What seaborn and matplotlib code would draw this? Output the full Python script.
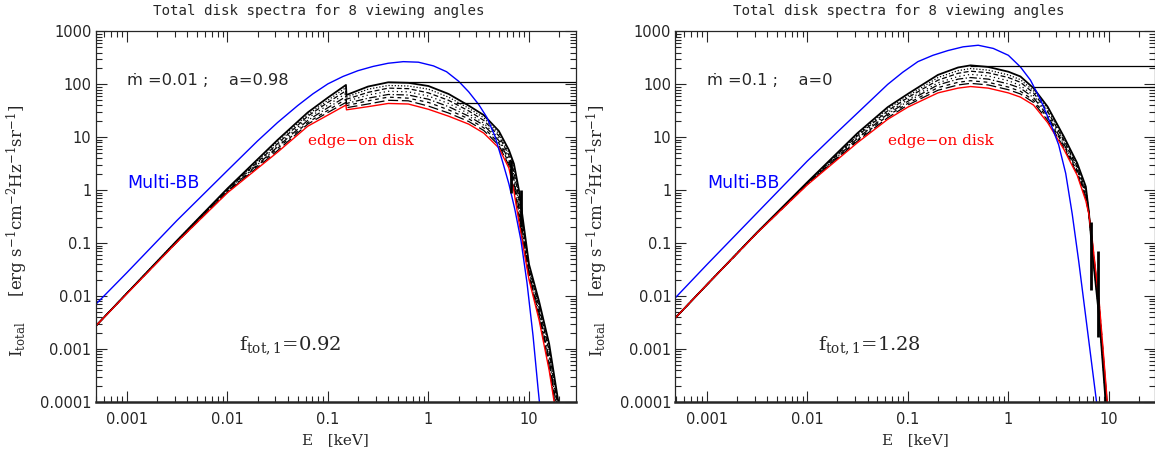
import numpy as np
import pandas as pd
import matplotlib
matplotlib.use("Agg")
import matplotlib.pyplot as plt
import seaborn as sns
from matplotlib.ticker import LogLocator, FuncFormatter, NullFormatter

# ---- data (log10 values) ----
# panel 1: mdot = 0.01, a = 0.98
logE_left = [-3.31, -3.0, -2.5, -2.0, -1.5, -1.2, -1.0, -0.82, -0.815, -0.6, -0.4, -0.2,
             0.0, 0.2, 0.4, 0.55, 0.7, 0.8, 0.85, 0.9, 1.0, 1.1, 1.2, 1.3]
logI_left_angles = [
    [-2.57, -1.95, -0.95, 0.03, 0.95, 1.47, 1.75, 1.99, 1.80, 1.96, 2.04, 2.03, 1.97, 1.82, 1.60, 1.42, 1.12, 0.76, 0.50, 0.00, -1.40, -2.10, -2.90, -4.10],
    [-2.57, -1.95, -0.95, 0.02, 0.92, 1.43, 1.70, 1.94, 1.76, 1.91, 1.98, 1.97, 1.91, 1.76, 1.55, 1.37, 1.07, 0.71, 0.43, -0.09, -1.44, -2.15, -2.97, -4.17],
    [-2.57, -1.95, -0.96, 0.01, 0.88, 1.40, 1.66, 1.88, 1.72, 1.85, 1.93, 1.92, 1.84, 1.70, 1.50, 1.32, 1.03, 0.66, 0.35, -0.17, -1.48, -2.20, -3.04, -4.24],
    [-2.57, -1.95, -0.96, 0.00, 0.85, 1.36, 1.61, 1.83, 1.68, 1.80, 1.87, 1.86, 1.78, 1.64, 1.45, 1.27, 0.98, 0.61, 0.28, -0.26, -1.52, -2.25, -3.11, -4.31],
    [-2.57, -1.95, -0.97, -0.02, 0.82, 1.32, 1.56, 1.77, 1.64, 1.74, 1.81, 1.80, 1.72, 1.58, 1.40, 1.23, 0.94, 0.57, 0.20, -0.34, -1.57, -2.30, -3.19, -4.39],
    [-2.57, -1.95, -0.97, -0.03, 0.79, 1.28, 1.51, 1.72, 1.60, 1.69, 1.76, 1.74, 1.66, 1.52, 1.35, 1.18, 0.89, 0.52, 0.13, -0.43, -1.61, -2.35, -3.26, -4.46],
    [-2.57, -1.95, -0.98, -0.04, 0.75, 1.25, 1.47, 1.66, 1.56, 1.63, 1.70, 1.69, 1.59, 1.46, 1.30, 1.13, 0.85, 0.47, 0.05, -0.51, -1.65, -2.40, -3.33, -4.53],
]
logI_left_edge = [-2.57, -1.96, -0.98, -0.05, 0.72, 1.21, 1.42, 1.61, 1.52, 1.58, 1.64, 1.63, 1.53, 1.40,
                  1.25, 1.08, 0.80, 0.42, -0.02, -0.60, -1.69, -2.45, -3.40, -4.60]
logE_bb_left = [-3.31, -3.0, -2.5, -2.0, -1.7, -1.5, -1.3, -1.15, -1.0, -0.85, -0.7, -0.55, -0.4, -0.25,
                -0.1, 0.05, 0.18, 0.3, 0.4, 0.5, 0.58, 0.66, 0.74, 0.8, 0.86, 0.92, 0.98, 1.04, 1.09, 1.13]
logI_bb_left = [-2.16, -1.56, -0.57, 0.37, 0.93, 1.28, 1.60, 1.82, 2.01, 2.15, 2.26, 2.34, 2.40, 2.43,
                2.42, 2.35, 2.24, 2.06, 1.86, 1.62, 1.38, 1.03, 0.52, 0.12, -0.37, -0.95, -1.75, -2.75, -3.75, -4.50]
ref_level_left = [110, 44]
ref_start_left = [0.41, 1.9]
# iron-edge spikes in the black spectra (E in keV, top / bottom of the spike)
spike_E_left = [6.65, 8.4]
spike_top_left = [3.8, 1.0]
spike_bot_left = [0.9, 0.2]

# panel 2: mdot = 0.1, a = 0
logE_right = [-3.31, -3.0, -2.5, -2.0, -1.5, -1.2, -1.0, -0.7, -0.5, -0.376, -0.2, 0.0, 0.12, 0.25,
              0.39, 0.55, 0.685, 0.77, 0.80, 0.835, 0.905, 0.967, 1.0]
logI_right_angles = [
    [-2.41, -1.79, -0.80, 0.15, 1.08, 1.57, 1.82, 2.18, 2.32, 2.36, 2.33, 2.24, 2.15, 1.93, 1.58, 1.02, 0.51, 0.07, -0.40, -1.18, -2.44, -4.00, -4.60],
    [-2.41, -1.79, -0.80, 0.14, 1.05, 1.54, 1.78, 2.13, 2.26, 2.30, 2.27, 2.18, 2.09, 1.88, 1.54, 0.99, 0.48, 0.03, -0.41, -1.15, -2.40, -3.94, -4.57],
    [-2.41, -1.79, -0.80, 0.14, 1.03, 1.50, 1.75, 2.08, 2.21, 2.25, 2.22, 2.13, 2.04, 1.84, 1.49, 0.95, 0.44, -0.01, -0.41, -1.11, -2.36, -3.89, -4.54],
    [-2.41, -1.79, -0.80, 0.13, 1.00, 1.47, 1.71, 2.03, 2.15, 2.19, 2.16, 2.07, 1.98, 1.79, 1.45, 0.92, 0.41, -0.05, -0.42, -1.08, -2.32, -3.83, -4.51],
    [-2.41, -1.79, -0.81, 0.12, 0.98, 1.44, 1.68, 1.99, 2.10, 2.13, 2.10, 2.01, 1.93, 1.75, 1.41, 0.88, 0.38, -0.08, -0.43, -1.05, -2.27, -3.77, -4.49],
    [-2.41, -1.79, -0.81, 0.11, 0.95, 1.41, 1.64, 1.94, 2.04, 2.07, 2.04, 1.95, 1.87, 1.70, 1.37, 0.85, 0.35, -0.12, -0.44, -1.02, -2.23, -3.71, -4.46],
    [-2.41, -1.79, -0.81, 0.11, 0.93, 1.37, 1.61, 1.89, 1.99, 2.02, 1.99, 1.90, 1.82, 1.66, 1.32, 0.81, 0.31, -0.16, -0.44, -0.98, -2.19, -3.66, -4.43],
]
logI_right_edge = [-2.41, -1.79, -0.81, 0.10, 0.90, 1.34, 1.57, 1.84, 1.93, 1.96, 1.93, 1.84, 1.76, 1.61,
                   1.28, 0.78, 0.28, -0.20, -0.45, -0.95, -2.15, -3.60, -4.40]
logE_bb_right = [-3.31, -3.0, -2.5, -2.0, -1.7, -1.5, -1.35, -1.2, -1.05, -0.9, -0.75, -0.6, -0.45, -0.3,
                 -0.15, 0.0, 0.12, 0.22, 0.32, 0.42, 0.5, 0.57, 0.635, 0.70, 0.76, 0.82, 0.88, 0.91]
logI_bb_right = [-2.03, -1.41, -0.43, 0.55, 1.10, 1.46, 1.73, 2.00, 2.23, 2.43, 2.55, 2.64, 2.71, 2.74,
                 2.68, 2.55, 2.33, 2.08, 1.71, 1.26, 0.86, 0.32, -0.45, -1.35, -2.25, -3.15, -4.05, -4.50]
ref_level_right = [225, 91]
ref_start_right = [0.42, 1.8]
spike_E_right = [6.6, 7.7]
spike_top_right = [0.25, 0.07]
spike_bot_right = [0.013, 0.0017]

panel_text = ["\u1e41 =0.01 ;    a=0.98", "\u1e41 =0.1 ;    a=0"]
f_text = [r"f$_{\rm tot,1}$=0.92", r"f$_{\rm tot,1}$=1.28"]
TITLE = "Total disk spectra for 8 viewing angles"
XLIM = (4.9e-4, 29)
YLIM = (1e-4, 1e3)
XTICKS = [1e-3, 1e-2, 1e-1, 1, 10]
YTICKS = [1e-4, 1e-3, 1e-2, 1e-1, 1, 10, 100, 1000]

# black line styles for the 7 non edge-on angles (top one solid)
ANGLE_STYLES = ["-", (0, (1, 1.5)), (0, (4, 2)), (0, (1, 2.5)), (0, (6, 2, 1, 2)), (0, (3, 3)), (0, (8, 3))]

sns.set_style("ticks")
plt.rcParams.update({
    "font.family": ["DejaVu Sans"],
    "mathtext.fontset": "dejavuserif",
    "axes.linewidth": 1.0,
})


def to_frame(logE, logI):
    return pd.DataFrame({"E": np.power(10.0, logE), "I": np.power(10.0, logI)})


def draw_panel(ax, logE, angles, edge, logE_bb, logI_bb, levels, starts, spikes, txt, ftxt):
    for k, curve in enumerate(angles):
        sns.lineplot(data=to_frame(logE, curve), x="E", y="I", ax=ax, color="black",
                     linestyle=ANGLE_STYLES[k], linewidth=1.3 if k == 0 else 0.9,
                     sort=False, estimator=None)
    sns.lineplot(data=to_frame(logE, edge), x="E", y="I", ax=ax, color="#ff0000",
                 linewidth=1.0, sort=False, estimator=None)
    sns.lineplot(data=to_frame(logE_bb, logI_bb), x="E", y="I", ax=ax, color="#0000ff",
                 linewidth=1.0, sort=False, estimator=None)
    for lev, s in zip(levels, starts):
        ax.hlines(lev, s, XLIM[1], color="black", linewidth=0.9)
    sE, sTop, sBot = spikes
    ax.vlines(sE, sBot, sTop, color="black", linewidth=2.0)

    ax.set_xscale("log")
    ax.set_yscale("log")
    ax.set_xlim(*XLIM)
    ax.set_ylim(*YLIM)
    ax.set_xticks(XTICKS)
    ax.set_yticks(YTICKS)
    ax.xaxis.set_minor_locator(LogLocator(base=10, subs=np.arange(2, 10), numticks=100))
    ax.yaxis.set_minor_locator(LogLocator(base=10, subs=np.arange(2, 10), numticks=100))
    fmt = FuncFormatter(lambda v, _: f"{v:g}")
    ax.xaxis.set_major_formatter(fmt)
    ax.yaxis.set_major_formatter(fmt)
    ax.xaxis.set_minor_formatter(NullFormatter())
    ax.yaxis.set_minor_formatter(NullFormatter())
    ax.tick_params(which="both", direction="in", top=True, right=True, labelsize=10.5, width=0.8)
    ax.tick_params(which="major", length=8)
    ax.tick_params(which="minor", length=4)
    ax.tick_params(axis="y", pad=3)
    ax.tick_params(axis="x", pad=7)
    for sp in ax.spines.values():
        sp.set_visible(True)
        sp.set_linewidth(0.9)
    ax.spines["bottom"].set_linewidth(1.8)
    ax.set_xlabel("")
    ax.set_ylabel("")
    ax.xaxis.label.set_visible(False)
    ax.yaxis.label.set_visible(False)

    ax.text(0.465, 1.055, TITLE, transform=ax.transAxes, ha="center", va="center",
            fontsize=10.2, family="DejaVu Sans Mono")
    ax.text(0.5, -0.103, "E   [keV]", transform=ax.transAxes, ha="center", va="center",
            fontsize=11, family="DejaVu Serif")
    ax.text(0.066, 0.869, txt, transform=ax.transAxes, ha="left", va="center", fontsize=11.7)
    ax.text(0.066, 0.59, "Multi-BB", transform=ax.transAxes, ha="left", va="center",
            fontsize=12.5, color="#0000ff")
    ax.text(0.443, 0.705, "edge\u2212on disk", transform=ax.transAxes, ha="left", va="center",
            fontsize=11, color="#ff0000", family="DejaVu Serif")
    ax.text(0.298, 0.14, ftxt, transform=ax.transAxes, ha="left", va="baseline",
            fontsize=14, family="DejaVu Serif")


fig = plt.figure(figsize=(11.55, 4.55), dpi=100)
ax1 = fig.add_axes([0.0827, 0.1165, 0.4156, 0.8143])
ax2 = fig.add_axes([0.5848, 0.1165, 0.4156, 0.8143])

draw_panel(ax1, logE_left, logI_left_angles, logI_left_edge, logE_bb_left, logI_bb_left,
           ref_level_left, ref_start_left, (spike_E_left, spike_top_left, spike_bot_left),
           panel_text[0], f_text[0])
draw_panel(ax2, logE_right, logI_right_angles, logI_right_edge, logE_bb_right, logI_bb_right,
           ref_level_right, ref_start_right, (spike_E_right, spike_top_right, spike_bot_right),
           panel_text[1], f_text[1])

ylab = r"I$_{\rm total}$     [erg s$^{-1}$cm$^{-2}$Hz$^{-1}$sr$^{-1}$]"
for xpos in (17 / 1155, 597 / 1155):
    fig.text(xpos, 0.492, ylab, rotation=90, ha="center", va="center", fontsize=12,
             family="DejaVu Serif")

fig.savefig("out.png", dpi=100)
